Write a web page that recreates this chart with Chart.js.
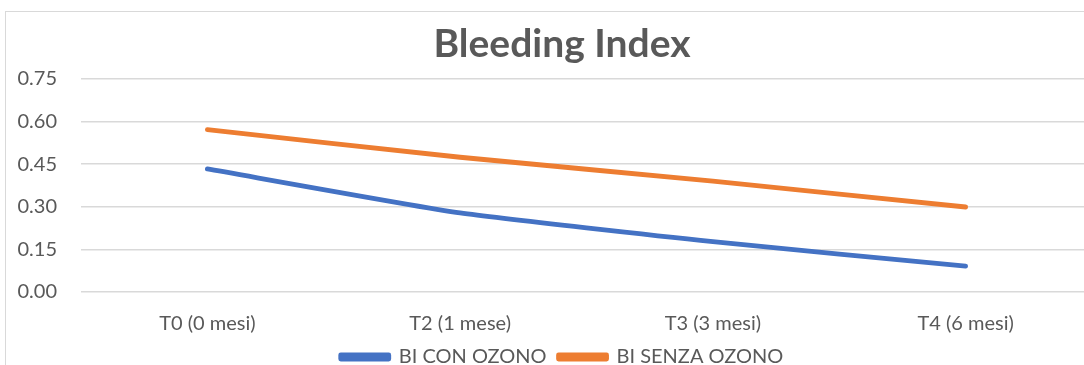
<!DOCTYPE html>
<html>
<head>
<meta charset="utf-8">
<script src="https://cdn.jsdelivr.net/npm/chart.js@4.4.0/dist/chart.umd.min.js"></script>
<style>
  html, body { margin: 0; padding: 0; background: #fff; overflow: hidden; width: 1084px; height: 365px; }
  #frame { position: absolute; left: 5px; top: 11px; width: 1200px; height: 400px; border-left: 1.5px solid #d9d9d9; border-top: 1.5px solid #d9d9d9; }
  #wrap { position: absolute; left: 0; top: 0; width: 1124px; height: 377px; }
</style>
</head>
<body>
<div id="frame"></div>
<div id="wrap"><canvas id="c"></canvas></div>
<script>
const categories = ["T0 (0 mesi)", "T2 (1 mese)", "T3 (3 mesi)", "T4 (6 mesi)"];
const conOzono = [0.433, 0.278, 0.177, 0.091];
const senzaOzono = [0.571, 0.474, 0.390, 0.299];
const seriesNames = ["BI CON OZONO", "BI SENZA OZONO"];
const chartTitle = "Bleeding Index";

const FONT = "Lato, 'Open Sans', sans-serif";
const GREY = "#595959";

new Chart(document.getElementById('c'), {
  type: 'line',
  data: {
    labels: categories,
    datasets: [
      { label: seriesNames[0], data: conOzono, borderColor: '#4472C4', backgroundColor: '#4472C4',
        borderWidth: 4.8, pointRadius: 0, tension: 0.15, borderCapStyle: 'round', borderJoinStyle: 'round' },
      { label: seriesNames[1], data: senzaOzono, borderColor: '#ED7D31', backgroundColor: '#ED7D31',
        borderWidth: 4.8, pointRadius: 0, tension: 0.15, borderCapStyle: 'round', borderJoinStyle: 'round' }
    ]
  },
  options: {
    responsive: true,
    maintainAspectRatio: false,
    animation: false,
    layout: { padding: { left: 17, right: 17, top: 6, bottom: 0 } },
    plugins: {
      title: { display: true, text: chartTitle, color: GREY,
        font: { family: FONT, size: 39, weight: 'bold' }, padding: { top: 15, bottom: 11 } },
      legend: { position: 'bottom',
        labels: { color: GREY, font: { family: FONT, size: 20, lineHeight: 1 }, boxWidth: 48, boxHeight: 4, padding: 12 } },
      tooltip: { enabled: false }
    },
    scales: {
      x: { offset: true,
        grid: { display: false, drawTicks: false },
        border: { display: false },
        ticks: { color: GREY, font: { family: FONT, size: 20, lineHeight: 1 }, padding: 22, maxRotation: 0 },
        afterFit: s => { s.height = 43; } },
      y: { min: 0, max: 0.75,
        grid: { color: '#d9d9d9', lineWidth: 1.5, drawTicks: false },
        border: { display: false },
        ticks: { stepSize: 0.15, color: GREY, font: { family: FONT, size: 20 }, padding: 24,
          callback: v => Number(v).toFixed(2) },
        afterFit: s => { s.width = 64; } },
      yRight: { position: 'right', display: true,
        grid: { display: false, drawTicks: false },
        border: { display: false },
        ticks: { display: false },
        afterFit: s => { s.width = 15; } }
    }
  }
});
</script>
</body>
</html>
